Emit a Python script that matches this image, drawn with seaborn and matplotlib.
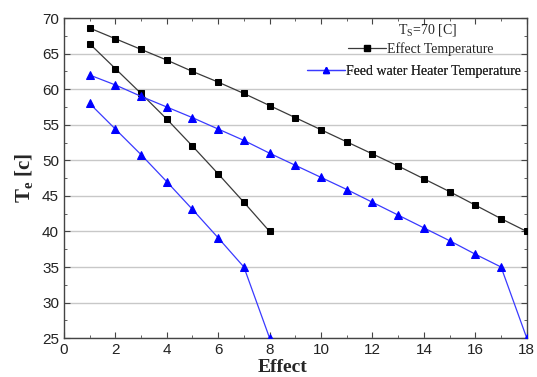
import numpy as np
import pandas as pd
import seaborn as sns
import matplotlib.pyplot as plt
from matplotlib.ticker import MultipleLocator
from matplotlib.lines import Line2D

# 8-effect plant
effects_8 = [1, 2, 3, 4, 5, 6, 7, 8]
effect_temp_8 = [66.4, 62.9, 59.4, 55.8, 52.0, 48.1, 44.1, 40.0]
heater_temp_8 = [58.0, 54.4, 50.8, 47.0, 43.1, 39.1, 35.0, 25.0]

# 18-effect plant
effects_18 = list(range(1, 19))
effect_temp_18 = [68.6, 67.1, 65.6, 64.1, 62.5, 61.0, 59.4, 57.7, 56.0,
                  54.3, 52.6, 50.9, 49.2, 47.4, 45.6, 43.7, 41.8, 40.0]
heater_temp_18 = [62.0, 60.6, 59.0, 57.5, 56.0, 54.4, 52.8, 51.0, 49.3,
                  47.6, 45.9, 44.1, 42.3, 40.5, 38.7, 36.8, 35.0, 25.0]

sns.set_style('ticks')
plt.rcParams['font.family'] = ['Liberation Sans', 'DejaVu Sans']
serif = ['Liberation Serif', 'DejaVu Serif']

black_style = dict(color='#3a3a3a', lw=0.9, marker='s', markersize=4.6,
                   markerfacecolor='black', markeredgecolor='black')
blue_style = dict(color='#3a3aff', lw=0.9, marker='^', markersize=5.2,
                  markerfacecolor='#0000ff', markeredgecolor='#0000ff')

fig, ax = plt.subplots(figsize=(5.37, 3.77), dpi=100)
fig.subplots_adjust(left=0.119, right=0.981, top=0.952, bottom=0.103)

for x, y in [(effects_8, effect_temp_8), (effects_18, effect_temp_18)]:
    sns.lineplot(x=x, y=y, ax=ax, zorder=3, **black_style)
for x, y in [(effects_8, heater_temp_8), (effects_18, heater_temp_18)]:
    sns.lineplot(x=x, y=y, ax=ax, zorder=3, **blue_style)

ax.set_xlim(0, 18)
ax.set_ylim(25, 70)
ax.xaxis.set_major_locator(MultipleLocator(2))
ax.xaxis.set_minor_locator(MultipleLocator(1))
ax.yaxis.set_major_locator(MultipleLocator(5))
ax.yaxis.set_minor_locator(MultipleLocator(2.5))
ax.tick_params(which='both', direction='in', top=True, right=True,
               labelsize=11, colors='#444444', labelcolor='#222222')
ax.tick_params(which='major', length=4)
ax.tick_params(which='minor', length=2.5)
ax.grid(axis='y', which='major', color='#c8c8c8', lw=1)
ax.set_axisbelow(True)
for s in ax.spines.values():
    s.set_color('#444444')
    s.set_linewidth(1)

ax.set_xlabel('Effect', family=serif, fontweight='bold', fontsize=14)
ax.xaxis.set_label_coords(0.473, -0.066)
ax.set_ylabel(r'T$_\mathregular{e}$ [c]', family=serif, fontweight='bold',
              fontsize=15, labelpad=4)

# legend: title and two centred rows, as in the original
ax.text(0.786, 0.9625, r'T$_\mathregular{S}$=70 [C]', transform=ax.transAxes,
        ha='center', va='center', family=serif, fontsize=10)
rows = [(Line2D([], [], **black_style), 'Effect Temperature', (0.771, 0.903)),
        (Line2D([], [], **blue_style), 'Feed water Heater Temperature', (0.756, 0.834))]
for h, lab, pos in rows:
    leg = ax.legend([h], [lab], loc='center', bbox_to_anchor=pos,
                    frameon=False, prop={'family': serif, 'size': 10},
                    handlelength=2.7, handletextpad=0.05, borderpad=0,
                    borderaxespad=0, markerscale=0.85)
    ax.add_artist(leg)

fig.savefig('out.png', dpi=100)
